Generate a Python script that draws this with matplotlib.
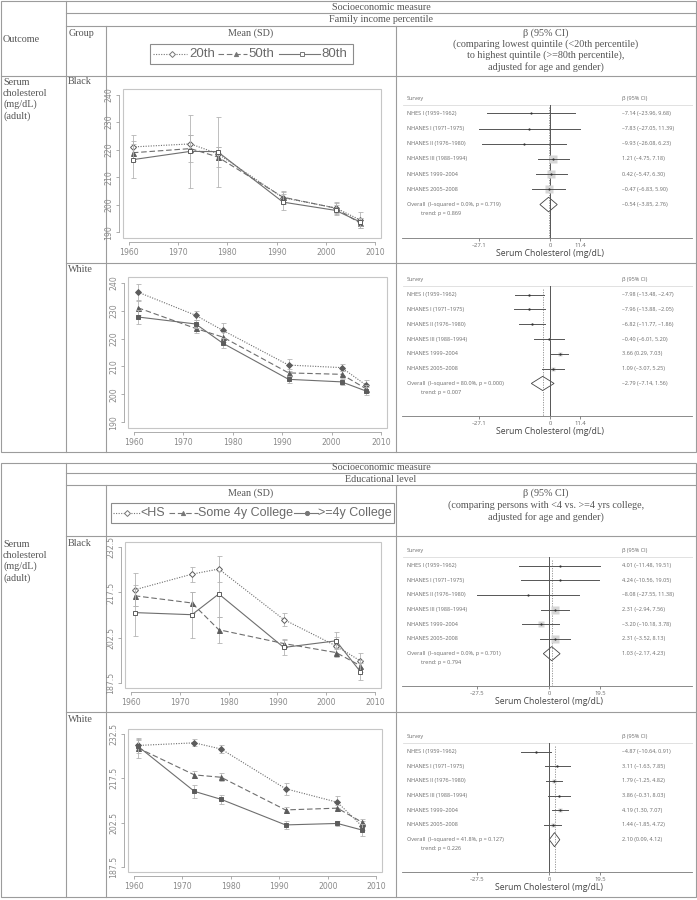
import matplotlib.pyplot as plt
from matplotlib.patches import Rectangle, Polygon

W, H = 697, 900

# survey mid-years used on the x axis of the trend panels
years = [1960.8, 1972.5, 1978.0, 1991.3, 2002.0, 2007.0]

# family income, black (mean, error)
ib_20 = [221.0, 222.1, 218.6, 202.6, 198.9, 194.5]
ib_20_err = [4.5, 3.3, 2.5, 2.3, 2.2, 2.8]
ib_50 = [218.9, 220.4, 217.4, 202.8, 198.8, 193.3]
ib_50_err = [3.0, 5.0, 3.5, 2.0, 1.8, 1.8]
ib_80 = [216.4, 219.4, 219.3, 201.0, 198.0, 193.8]
ib_80_err = [6.8, 13.1, 12.7, 2.8, 1.8, 1.5]

# family income, white
iw_20 = [236.6, 228.3, 222.9, 210.5, 209.6, 203.3]
iw_20_err = [2.8, 1.5, 2.6, 2.2, 1.3, 2.0]
iw_50 = [231.0, 223.6, 220.5, 207.7, 207.2, 202.0]
iw_50_err = [2.5, 1.5, 1.8, 1.5, 1.2, 1.5]
iw_80 = [227.7, 225.2, 218.3, 205.4, 204.5, 201.2]
iw_80_err = [2.5, 1.5, 1.8, 1.3, 1.2, 1.3]

# education, black
eb_hs = [218.4, 223.6, 225.3, 208.5, 199.7, 194.7]
eb_hs_err = [5.5, 2.5, 4.2, 2.0, 3.0, 2.5]
eb_some = [216.4, 214.0, 205.1, 200.5, 197.5, 193.1]
eb_some_err = [3.5, 3.5, 4.3, 1.5, 1.5, 2.0]
eb_col = [210.8, 210.1, 217.0, 199.2, 201.4, 191.1]
eb_col_err = [7.7, 7.6, 7.6, 2.5, 2.8, 2.8]

# education, white
ew_hs = [228.7, 229.6, 227.5, 214.0, 209.4, 201.4]
ew_hs_err = [2.0, 1.2, 1.5, 2.0, 2.0, 1.5]
ew_some = [227.9, 218.7, 217.9, 206.8, 207.4, 202.7]
ew_some_err = [3.5, 1.2, 1.3, 1.0, 1.0, 1.0]
ew_col = [228.5, 213.1, 210.4, 201.7, 202.2, 200.0]
ew_col_err = [2.5, 2.3, 1.5, 1.5, 1.0, 2.0]

inc_yticks = [190, 200, 210, 220, 230, 240]
edu_yticks = [187.5, 202.5, 217.5, 232.5]
xticks = [1960, 1970, 1980, 1990, 2000, 2010]

surveys = ["NHES I (1959–1962)", "NHANES I (1971–1975)", "NHANES II (1976–1980)",
           "NHANES III (1988–1994)", "NHANES 1999–2004", "NHANES 2005–2008"]

# forest plots: beta, lower, upper, box weight
fib_est = [-7.14, -7.83, -9.93, 1.21, 0.42, -0.47]
fib_lo = [-23.96, -27.05, -26.08, -4.75, -5.47, -6.83]
fib_hi = [9.68, 11.39, 6.23, 7.18, 6.30, 5.90]
fib_w = [0, 0, 0, 6, 6, 6]
fib_overall = [-0.54, -3.85, 2.76]
fib_het = "I–squared = 0.0%, p = 0.719"
fib_trend = "0.869"

fiw_est = [-7.98, -7.96, -6.82, -0.40, 3.66, 1.09]
fiw_lo = [-13.48, -13.88, -11.77, -6.01, 0.29, -3.07]
fiw_hi = [-2.47, -2.05, -1.86, 5.20, 7.03, 5.25]
fiw_w = [2, 2, 2, 2, 3, 3]
fiw_overall = [-2.79, -7.14, 1.56]
fiw_het = "I–squared = 80.0%, p = 0.000"
fiw_trend = "0.007"

feb_est = [4.01, 4.24, -8.08, 2.31, -3.20, 2.31]
feb_lo = [-11.48, -10.56, -27.55, -2.94, -10.18, -3.52]
feb_hi = [19.51, 19.05, 11.38, 7.56, 3.78, 8.13]
feb_w = [0, 0, 0, 6, 5, 6]
feb_overall = [1.03, -2.17, 4.23]
feb_het = "I–squared = 0.0%, p = 0.701"
feb_trend = "0.794"

few_est = [-4.87, 3.11, 1.79, 3.86, 4.19, 1.44]
few_lo = [-10.64, -1.63, -1.25, -0.31, 1.30, -1.85]
few_hi = [0.91, 7.85, 4.82, 8.03, 7.07, 4.72]
few_w = [2, 2, 3, 2, 3, 3]
few_overall = [2.10, 0.09, 4.12]
few_het = "I–squared = 41.8%, p = 0.127"
few_trend = "0.226"

inc_ticks = [-27.1, 0, 11.4]
edu_ticks = [-27.5, 0, 19.5]

fig = plt.figure(figsize=(W / 100, H / 100), dpi=100)
bg = fig.add_axes([0, 0, 1, 1])
bg.set_xlim(0, W)
bg.set_ylim(H, 0)
bg.axis('off')

LC = '#9c9c9c'
serif = dict(family='Liberation Serif', color='#555555', fontsize=7.3)


def hline(y, x0, x1):
    bg.plot([x0, x1], [y, y], color=LC, lw=0.8)


def vline(x, y0, y1):
    bg.plot([x, x], [y0, y1], color=LC, lw=0.8)


def px_axes(l, t, r, b):
    return fig.add_axes([l / W, 1 - b / H, (r - l) / W, (b - t) / H])


# ---- table 1 grid ----
bg.add_patch(Rectangle((1, 1), 695, 451, fill=False, ec=LC, lw=0.8))
hline(13, 66, 696)
hline(26, 66, 696)
hline(76, 1, 696)
hline(263, 66, 696)
vline(66, 1, 452)
vline(106, 26, 452)
vline(396, 26, 452)

bg.text(3, 40, "Outcome", va='center', **serif)
bg.text(381, 7, "Socioeconomic measure", ha='center', va='center', **serif)
bg.text(381, 19.5, "Family income percentile", ha='center', va='center', **serif)
bg.text(69, 33, "Group", va='center', **serif)
bg.text(251, 33, "Mean (SD)", ha='center', va='center', **serif)
beta1 = ["β (95% CI)", "(comparing lowest quintile (<20th percentile)",
         "to highest quintile (>=80th percentile),", "adjusted for age and gender)"]
for i, s in enumerate(beta1):
    bg.text(546, 33 + 11.3 * i, s, ha='center', va='center', **serif)
bg.text(3, 78, "Serum\ncholesterol\n(mg/dL)\n(adult)", va='top', linespacing=1.25, **serif)
bg.text(68, 82, "Black", va='center', **serif)
bg.text(68, 270, "White", va='center', **serif)

# ---- table 2 grid ----
bg.add_patch(Rectangle((1, 463), 695, 434, fill=False, ec=LC, lw=0.8))
hline(473, 66, 696)
hline(485, 66, 696)
hline(536, 66, 696)
hline(712, 66, 696)
vline(66, 463, 897)
vline(106, 485, 897)
vline(396, 485, 897)

bg.text(381, 468, "Socioeconomic measure", ha='center', va='center', **serif)
bg.text(381, 479.5, "Educational level", ha='center', va='center', **serif)
bg.text(251, 493, "Mean (SD)", ha='center', va='center', **serif)
beta2 = ["β (95% CI)", "(comparing persons with <4 vs. >=4 yrs college,",
         "adjusted for age and gender)"]
for i, s in enumerate(beta2):
    bg.text(546, 493 + 12 * i, s, ha='center', va='center', **serif)
bg.text(3, 540, "Serum\ncholesterol\n(mg/dL)\n(adult)", va='top', linespacing=1.25, **serif)
bg.text(68, 543, "Black", va='center', **serif)
bg.text(68, 720, "White", va='center', **serif)

# ---- legends in header ----
ls_dot = (0, (1, 1.3))
ls_dash = (0, (5, 2.5))


def leg_item(x0, x1, xm, y, ls, marker, mfc, label, xt, size):
    bg.plot([x0, x1], [y, y], color='#777777', lw=0.8, ls=ls)
    bg.plot([xm], [y], marker=marker, ms=3.0, color='#777777', mfc=mfc, mec='#777777', mew=0.7)
    bg.text(xt, y, label, family='Liberation Sans', color='#6a6a6a', fontsize=size, va='center')


bg.add_patch(Rectangle((150, 44), 203, 20, fill=False, ec='#8c8c8c', lw=0.8))
leg_item(153, 187, 172, 54, ls_dot, 'D', 'white', "20th", 189, 9.5)
leg_item(218, 247, 236, 54, ls_dash, '^', '#777777', "50th", 248, 9.5)
leg_item(279, 320, 302, 54, '-', 's', 'white', "80th", 321, 9.5)

bg.add_patch(Rectangle((111, 503), 283, 20, fill=False, ec='#8c8c8c', lw=0.8))
leg_item(113, 140, 127, 513, ls_dot, 'D', 'white', "<HS", 140, 9)
leg_item(169, 198, 183, 513, ls_dash, '^', '#777777', "Some 4y College", 198, 9)
leg_item(294, 318, 307, 513, '-', 'o', '#777777', ">=4y College", 318, 9)


# ---- trend panels ----
def trend_panel(rect, series, ylim, yticks, filled):
    ax = px_axes(*rect)
    ax.set_facecolor('none')
    styles = [(ls_dot, 'D', 3.0), (ls_dash, '^', 3.6), ('-', 's', 3.0)]
    for (m, e), (ls, mk, ms) in zip(series, styles):
        ax.errorbar(years, m, yerr=e, fmt='none', ecolor='#b4b4b4', elinewidth=0.6,
                    capsize=1.8, capthick=0.6)
        if filled or mk == '^':
            mfc = '#5c5c5c'
        else:
            mfc = 'white'
        ax.plot(years, m, ls=ls, color='#6e6e6e', lw=0.8, marker=mk, ms=ms,
                mfc=mfc, mec='#5c5c5c', mew=0.7)
    ax.set_xlim(1958.8, 2011.2)
    ax.set_ylim(*ylim)
    ax.add_patch(Rectangle((0, 0), 1, 1, transform=ax.transAxes, fill=False,
                           ec='#c6c6c6', lw=0.8, clip_on=False))
    for s in ['top', 'right']:
        ax.spines[s].set_visible(False)
    for s in ['left', 'bottom']:
        ax.spines[s].set_position(('outward', 3))
        ax.spines[s].set_color('#a0a0a0')
        ax.spines[s].set_linewidth(0.6)
    ax.spines['left'].set_bounds(yticks[0], yticks[-1])
    ax.spines['bottom'].set_bounds(1960, 2010)
    ax.set_xticks(xticks)
    ax.set_yticks(yticks)
    ax.set_yticklabels([('%g' % v) for v in yticks], rotation=90, va='center')
    ax.tick_params(colors='#a0a0a0', labelcolor='#8a8a8a', labelsize=5.6,
                   length=2.5, width=0.6, pad=1.5)


trend_panel((123, 89, 381, 238), [(ib_20, ib_20_err), (ib_50, ib_50_err), (ib_80, ib_80_err)],
            (188, 242), inc_yticks, False)
trend_panel((128, 277, 387, 428), [(iw_20, iw_20_err), (iw_50, iw_50_err), (iw_80, iw_80_err)],
            (188, 242), inc_yticks, True)
trend_panel((125, 542, 381, 688), [(eb_hs, eb_hs_err), (eb_some, eb_some_err), (eb_col, eb_col_err)],
            (185.7, 234.3), edu_yticks, False)
trend_panel((128, 729, 382, 872), [(ew_hs, ew_hs_err), (ew_some, ew_some_err), (ew_col, ew_col_err)],
            (185.7, 234.3), edu_yticks, True)


# ---- forest panels ----
def fmt(v):
    return ('%.2f' % v).replace('-', '–')


def forest(rect, zero_px, est, lo, hi, wts, overall, het, trend, ticks):
    l, t, r, b = rect
    ppu = 2.62

    def X(px):
        return (px - zero_px) / ppu

    ax = px_axes(l, t, r, b)
    ax.set_facecolor('none')
    ax.set_xlim(X(l), X(r))
    ax.set_ylim(9.2, -0.6)
    sans = dict(family='Open Sans', color='#6a6a6a', fontsize=4.0, va='center')

    ax.plot([X(403), X(693)], [0.42, 0.42], color='#dcdcdc', lw=0.6)
    ax.text(X(407), 0, "Survey", **sans)
    ax.text(X(622), 0, "β (95% CI)", **sans)
    ax.plot([0, 0], [0.42, 9.2], color='#555555', lw=0.7)
    ov, ol, oh = overall
    ax.plot([ov, ov], [0.6, 9.2], color='#8a8a8a', lw=0.6, ls=(0, (1.5, 1.5)))

    for i in range(len(est)):
        row = i + 1
        ax.text(X(407), row, surveys[i], **sans)
        ax.text(X(622), row, "%s (%s, %s)" % (fmt(est[i]), fmt(lo[i]), fmt(hi[i])), **sans)
        if wts[i] > 0:
            ax.plot([est[i]], [row], marker='s', ms=wts[i], color='#d6d6d6', mec='none')
        ax.plot([lo[i], hi[i]], [row, row], color='#555555', lw=0.7)
        ax.plot([est[i]], [row], marker='o', ms=1.6, color='#333333', mec='none')

    ax.add_patch(Polygon([(ol, 7), (ov, 6.52), (oh, 7), (ov, 7.48)], closed=True,
                         fill=False, ec='#444444', lw=0.6))
    ax.text(X(407), 7, "Overall  (%s)" % het, **sans)
    ax.text(X(421), 7.6, "trend: p = %s" % trend, **sans)
    ax.text(X(622), 7, "%s (%s, %s)" % (fmt(ov), fmt(ol), fmt(oh)), **sans)

    for s in ['top', 'right', 'left']:
        ax.spines[s].set_visible(False)
    ax.spines['bottom'].set_color('#777777')
    ax.spines['bottom'].set_linewidth(0.6)
    ax.spines['bottom'].set_bounds(X(402), X(692))
    ax.set_yticks([])
    ax.set_xticks(ticks)
    ax.set_xticklabels([('%g' % v).replace('-', '–') for v in ticks])
    ax.tick_params(axis='x', colors='#777777', labelcolor='#6a6a6a', labelsize=4.2,
                   length=2.5, width=0.6, pad=1)
    for lab in ax.get_xticklabels():
        lab.set_family('Open Sans')
    ax.set_xlabel("Serum Cholesterol (mg/dL)", family='Open Sans', fontsize=6.2,
                  color='#444444', labelpad=1)
    ax.xaxis.set_label_coords((zero_px - l) / (r - l), -0.075)


forest((400, 89, 693, 238), 550, fib_est, fib_lo, fib_hi, fib_w, fib_overall, fib_het, fib_trend, inc_ticks)
forest((400, 271, 693, 416), 550, fiw_est, fiw_lo, fiw_hi, fiw_w, fiw_overall, fiw_het, fiw_trend, inc_ticks)
forest((400, 542, 693, 686), 549, feb_est, feb_lo, feb_hi, feb_w, feb_overall, feb_het, feb_trend, edu_ticks)
forest((400, 728, 693, 872), 549, few_est, few_lo, few_hi, few_w, few_overall, few_het, few_trend, edu_ticks)

fig.savefig("out.png", dpi=100)
